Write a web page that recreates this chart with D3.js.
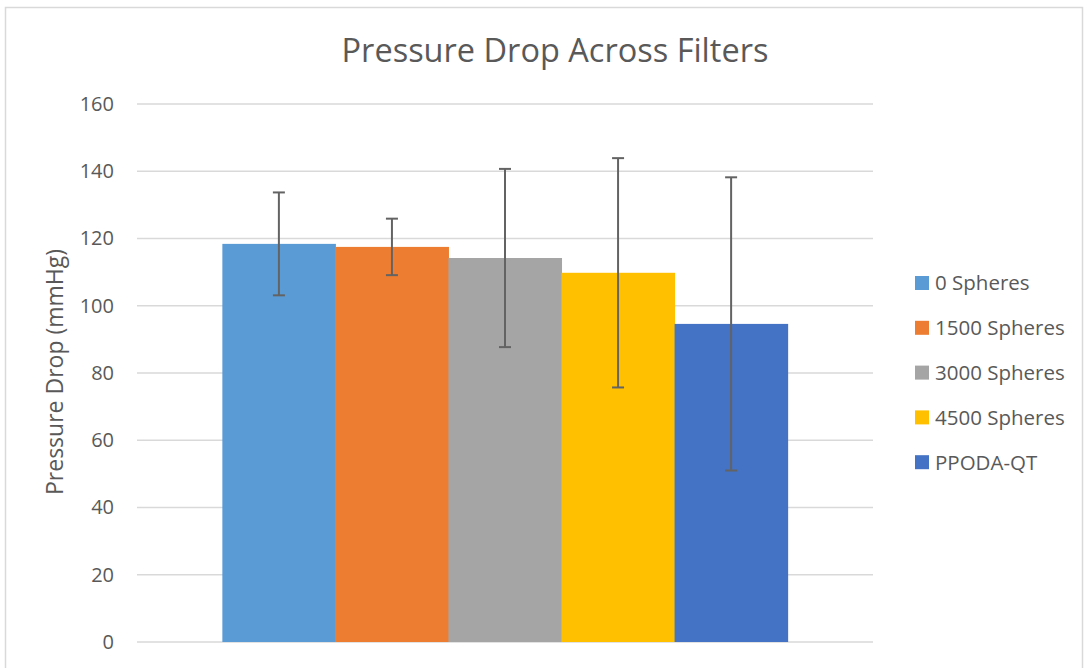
<!DOCTYPE html>
<html><head><meta charset="utf-8">
<script src="https://cdn.jsdelivr.net/npm/d3@7"></script>
<style>body{margin:0;background:#fff}svg{display:block}text{font-family:"Open Sans",sans-serif;fill:#595959}</style>
</head><body><svg id="c" width="1088" height="668"></svg>
<script>
const series = ["0 Spheres","1500 Spheres","3000 Spheres","4500 Spheres","PPODA-QT"];
const values = [118.4, 117.5, 114.2, 109.8, 94.6];
const errors = [15.3, 8.4, 26.5, 34.1, 43.6];
const colors = ["#5B9BD5","#ED7D31","#A5A5A5","#FFC000","#4472C4"];
const yTicks = [0,20,40,60,80,100,120,140,160];

const svg = d3.select("#c");
svg.append("rect").attr("x",5.5).attr("y",7.5).attr("width",1077).attr("height",670).attr("fill","#fff").attr("stroke","#d9d9d9").attr("stroke-width",1.5);

const x0 = 137, x1 = 873;
const y = d3.scaleLinear().domain([0,160]).range([642,104]);
const outer = d3.scaleBand().domain(["g"]).range([x0,x1]).paddingOuter(0.151).paddingInner(0);
const x = d3.scaleBand().domain(series).range([outer("g"), outer("g")+outer.bandwidth()]).padding(0);

const g = svg.append("g");
g.selectAll("line.grid").data(yTicks).join("line").attr("class","grid")
  .attr("x1",x0).attr("x2",x1).attr("y1",d=>y(d)).attr("y2",d=>y(d))
  .attr("stroke","#d9d9d9").attr("stroke-width",1.5);

const yAxis = d3.axisLeft(y).tickValues(yTicks).tickSize(0).tickPadding(0);
const ya = svg.append("g").attr("transform","translate(114,0)").call(yAxis);
ya.select(".domain").remove();
ya.selectAll("text").attr("font-size",20).attr("fill","#595959").attr("font-family","Open Sans");

g.selectAll("rect.bar").data(series).join("rect").attr("class","bar")
  .attr("x",d=>x(d)).attr("width",x.bandwidth()+0.5)
  .attr("y",(d,i)=>y(values[i])).attr("height",(d,i)=>y(0)-y(values[i]))
  .attr("fill",(d,i)=>colors[i]);

const eb = g.selectAll("g.err").data(series).join("g").attr("class","err")
  .attr("transform",d=>`translate(${x(d)+x.bandwidth()/2},0)`);
eb.append("line").attr("y1",(d,i)=>y(values[i]+errors[i])).attr("y2",(d,i)=>y(values[i]-errors[i]))
  .attr("stroke","#636363").attr("stroke-width",2);
eb.append("line").attr("x1",-6).attr("x2",6).attr("y1",(d,i)=>y(values[i]+errors[i])).attr("y2",(d,i)=>y(values[i]+errors[i]))
  .attr("stroke","#636363").attr("stroke-width",2);
eb.append("line").attr("x1",-6).attr("x2",6).attr("y1",(d,i)=>y(values[i]-errors[i])).attr("y2",(d,i)=>y(values[i]-errors[i]))
  .attr("stroke","#636363").attr("stroke-width",2);

svg.append("text").attr("x",555).attr("y",62).attr("text-anchor","middle").attr("font-size",32.5).text("Pressure Drop Across Filters");
svg.append("text").attr("transform","translate(63,372) rotate(-90)").attr("text-anchor","middle").attr("font-size",23).text("Pressure Drop (mmHg)");

const leg = svg.selectAll("g.leg").data(series).join("g").attr("class","leg")
  .attr("transform",(d,i)=>`translate(915,${283+i*44.8})`);
leg.append("rect").attr("x",0).attr("y",-7).attr("width",14).attr("height",14).attr("fill",(d,i)=>colors[i]);
leg.append("text").attr("x",20).attr("y",0).attr("dy","0.36em").attr("font-size",20.5).text(d=>d);
</script></body></html>
